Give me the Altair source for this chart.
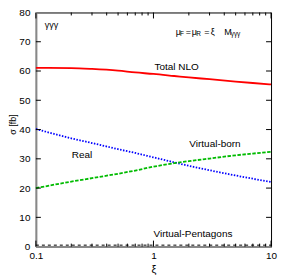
import altair as alt
import pandas as pd

xi = [0.1, 0.2, 0.3, 0.5, 0.7, 1, 1.5, 2, 3, 5, 7, 10]
total_nlo = [61.1, 61.0, 60.7, 60.1, 59.5, 59.0, 58.3, 57.8, 57.2, 56.4, 55.9, 55.4]
real = [40.2, 37.0, 35.4, 33.3, 32.0, 30.5, 28.8, 27.6, 26.1, 24.3, 23.2, 22.1]
virtual_born = [20.0, 22.2, 23.4, 24.9, 26.0, 27.3, 28.5, 29.2, 30.1, 31.2, 31.8, 32.4]
virtual_pent = [0.5, 0.5, 0.5, 0.5, 0.5, 0.5, 0.5, 0.5, 0.5, 0.5, 0.5, 0.5]

x_major = [0.1, 1, 10]
x_minor = [0.2, 0.3, 0.4, 0.5, 0.6, 0.7, 0.8, 0.9, 2, 3, 4, 5, 6, 7, 8, 9]
y_ticks = [0, 10, 20, 30, 40, 50, 60, 70, 80]

label_text = ["Total NLO", "Real", "Virtual-born", "Virtual-Pentagons"]
label_x = [1.02, 0.202, 2.02, 1.0]
label_y = [61.4, 31.2, 34.9, 4.4]

W, H = 236, 235
FONT = "Liberation Sans"

xs = alt.Scale(type="log", domain=[0.1, 10], nice=False)
ys = alt.Scale(domain=[0, 80], nice=False)

x_axis = alt.Axis(values=x_major, labelExpr="datum.value == 0.1 ? '0.1' : format(datum.value, 'd')",
                  ticks=False, domainColor="#888888", domainWidth=2,
                  labelFont=FONT, labelFontSize=10, labelColor="#000000", labelPadding=4,
                  titleFont=FONT, titleFontSize=11, titleFontWeight="normal", titlePadding=3,
                  labelFlush=False, labelOverlap=False, grid=False)
y_axis = alt.Axis(values=y_ticks, ticks=False, domainColor="#888888", domainWidth=2,
                  labelFont=FONT, labelFontSize=10, labelColor="#000000", labelPadding=6,
                  labelOverlap=False, labelFlush=False,
                  titleFont=FONT, titleFontSize=9, titleFontWeight="normal",
                  titleX=-23, titleY=112, titleAngle=270, titleAlign="center",
                  titleBaseline="middle", grid=False)


def X(f):
    return alt.X(f, scale=xs, axis=x_axis, title="ξ")


def Y(f):
    return alt.Y(f, scale=ys, axis=y_axis, title="σ [fb]")


series = [
    ("Total NLO", total_nlo, "#ff0000", None, 1.8),
    ("Real", real, "#0000ff", [1.5, 1.5], 1.8),
    ("Virtual-born", virtual_born, "#00bb00", [3.5, 1.5], 1.8),
    ("Virtual-Pentagons", virtual_pent, "#000000", [3, 3], 1.0),
]

layers = []

for name, vals, col, dash, sw in series:
    df = pd.DataFrame({"xi": xi, "v": vals})
    kw = dict(color=col, strokeWidth=sw, interpolate="monotone")
    if dash:
        kw["strokeDash"] = dash
    layers.append(alt.Chart(df).mark_line(**kw).encode(x=X("xi:Q"), y=Y("v:Q")))

maj = pd.DataFrame({"t": x_major})
mnr = pd.DataFrame({"t": x_minor})
for df, L in [(maj, 6), (mnr, 3)]:
    layers.append(alt.Chart(df).mark_rule(color="black", strokeWidth=1).encode(
        x=X("t:Q"), y=alt.value(H), y2=alt.value(H - L)))
    layers.append(alt.Chart(df).mark_rule(color="black", strokeWidth=1).encode(
        x=X("t:Q"), y=alt.value(0), y2=alt.value(L)))
ydf = pd.DataFrame({"t": y_ticks[1:-1]})
layers.append(alt.Chart(ydf).mark_rule(color="black", strokeWidth=1).encode(
    y=Y("t:Q"), x=alt.value(0), x2=alt.value(5)))
layers.append(alt.Chart(ydf).mark_rule(color="black", strokeWidth=1).encode(
    y=Y("t:Q"), x=alt.value(W - 5), x2=alt.value(W)))

ldf = pd.DataFrame({"text": label_text, "xi": label_x, "v": label_y})
layers.append(alt.Chart(ldf).mark_text(align="left", baseline="middle", font=FONT, fontSize=10,
                                        color="black").encode(
    x=X("xi:Q"), y=Y("v:Q"), text="text:N"))

gdf = pd.DataFrame({"text": ["γγγ"], "xi": [0.119], "v": [75.6]})
layers.append(alt.Chart(gdf).mark_text(align="left", baseline="middle", font=FONT, fontSize=9,
                                        color="black").encode(
    x=X("xi:Q"), y=Y("v:Q"), text="text:N"))

mu_parts = ["μ", "F", "=", "μ", "R", "=", "ξ", "M", "γγγ"]
mu_dx = [0, 4.2, 10, 16, 20.5, 28.5, 35, 48.5, 55]
mu_dy = [0, 2, 0, 0, 2, 0, 0, 0, 2]
mu_size = [9, 6.5, 9, 9, 6.5, 9, 9, 9, 6.5]
mu_anchor_x = 1.55
mu_anchor_y = 73.2
for t, dx, dy, fs in zip(mu_parts, mu_dx, mu_dy, mu_size):
    d = pd.DataFrame({"text": [t], "xi": [mu_anchor_x], "v": [mu_anchor_y]})
    layers.append(alt.Chart(d).mark_text(align="left", baseline="middle", font=FONT, fontSize=fs,
                                          dx=dx, dy=dy, color="black").encode(
        x=X("xi:Q"), y=Y("v:Q"), text="text:N"))

chart = alt.layer(*layers).properties(
    width=W, height=H,
    autosize=alt.AutoSizeParams(type="none"),
    padding={"left": 28, "top": 4, "right": 10, "bottom": 30},
).configure_view(stroke="black", strokeWidth=1)

chart.save("out.html", embed_options={"renderer": "svg", "actions": False})
